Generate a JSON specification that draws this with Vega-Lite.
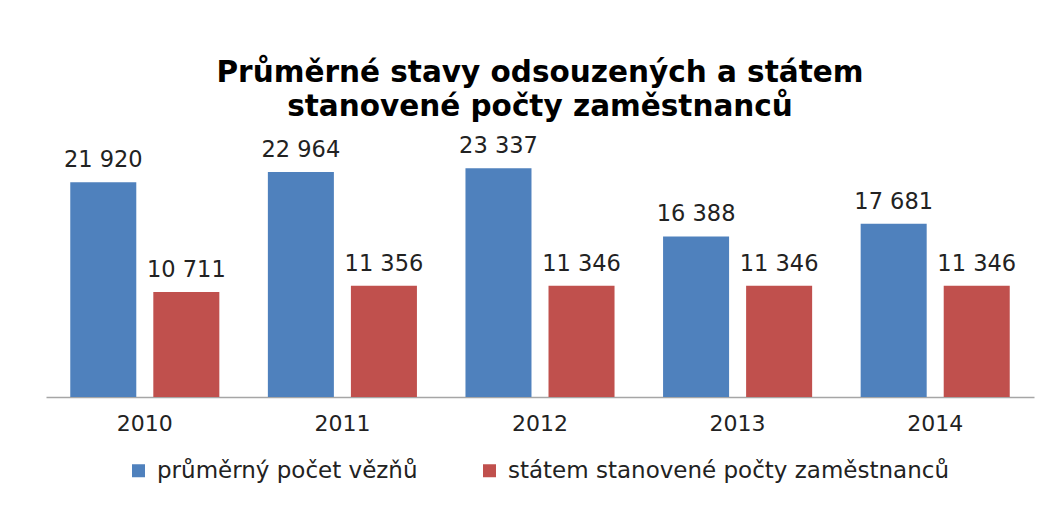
{
  "$schema": "https://vega.github.io/schema/vega-lite/v6.json",
  "autosize": {"type": "none"},
  "width": 988,
  "height": 245,
  "padding": {"left": 46, "top": 152, "right": 25, "bottom": 123},
  "background": "white",
  "config": {
    "view": {"stroke": null},
    "font": "DejaVu Sans",
    "locale": {"number": {"decimal": ",", "thousands": " ", "grouping": [3], "currency": ["", " Kč"]}}
  },
  "title": {
    "text": ["Průměrné stavy odsouzených a státem", "stanovené počty zaměstnanců"],
    "font": "DejaVu Sans",
    "fontSize": 29.5,
    "fontWeight": "bold",
    "lineHeight": 34,
    "color": "#000000",
    "anchor": "middle",
    "offset": 13
  },
  "data": {
    "values": [
      {"rok": "2010", "rada": "průměrný počet vězňů", "pocet": 21920},
      {"rok": "2010", "rada": "státem stanovené počty zaměstnanců", "pocet": 10711},
      {"rok": "2011", "rada": "průměrný počet vězňů", "pocet": 22964},
      {"rok": "2011", "rada": "státem stanovené počty zaměstnanců", "pocet": 11356},
      {"rok": "2012", "rada": "průměrný počet vězňů", "pocet": 23337},
      {"rok": "2012", "rada": "státem stanovené počty zaměstnanců", "pocet": 11346},
      {"rok": "2013", "rada": "průměrný počet vězňů", "pocet": 16388},
      {"rok": "2013", "rada": "státem stanovené počty zaměstnanců", "pocet": 11346},
      {"rok": "2014", "rada": "průměrný počet vězňů", "pocet": 17681},
      {"rok": "2014", "rada": "státem stanovené počty zaměstnanců", "pocet": 11346}
    ]
  },
  "encoding": {
    "x": {
      "field": "rok",
      "type": "nominal",
      "scale": {"paddingInner": 0.2456, "paddingOuter": 0.1228},
      "axis": {
        "title": null,
        "labelAngle": 0,
        "labelFont": "DejaVu Sans",
        "labelFontSize": 22,
        "labelColor": "#222222",
        "labelPadding": 16,
        "ticks": false,
        "domainColor": "#a6a6a6",
        "domainWidth": 1.5
      }
    },
    "xOffset": {
      "field": "rada",
      "type": "nominal",
      "scale": {"domain": ["průměrný počet vězňů", "státem stanovené počty zaměstnanců"], "paddingInner": 0.205, "paddingOuter": 0}
    },
    "y": {
      "field": "pocet",
      "type": "quantitative",
      "scale": {"domain": [0, 25000], "nice": false},
      "axis": null
    }
  },
  "layer": [
    {
      "mark": {"type": "bar"},
      "encoding": {
        "color": {
          "field": "rada",
          "type": "nominal",
          "scale": {
            "domain": ["průměrný počet vězňů", "státem stanovené počty zaměstnanců"],
            "range": ["#4f81bd", "#c0504d"]
          },
          "legend": {
            "title": null,
            "orient": "none",
            "legendX": 81,
            "legendY": 307,
            "padding": 0,
            "direction": "horizontal",
            "symbolType": "square",
            "symbolSize": 169,
            "symbolStrokeWidth": 0,
            "labelFont": "DejaVu Sans",
            "labelFontSize": 23,
            "labelColor": "#222222",
            "labelLimit": 0,
            "labelOffset": 7,
            "columnPadding": 60
          }
        }
      }
    },
    {
      "mark": {"type": "text", "baseline": "alphabetic", "dy": -15, "fontSize": 22.5, "font": "DejaVu Sans", "color": "#222222"},
      "encoding": {
        "text": {"field": "pocet", "type": "quantitative", "format": ",d"}
      }
    }
  ]
}
